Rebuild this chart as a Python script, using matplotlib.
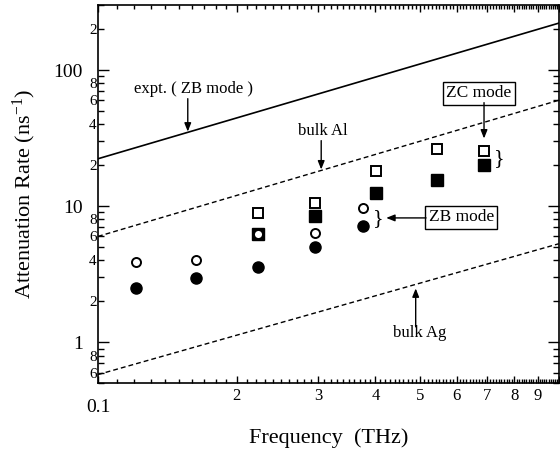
import numpy as np
import matplotlib
matplotlib.use('Agg')
import matplotlib.pyplot as plt
from matplotlib.ticker import FixedLocator, FuncFormatter, NullFormatter

plt.rcParams['font.family'] = ['Liberation Serif', 'DejaVu Serif']
plt.rcParams['mathtext.fontset'] = 'custom'
plt.rcParams['mathtext.rm'] = 'Liberation Serif'
plt.rcParams['mathtext.default'] = 'regular'

# lines (frequency in THz, rate in 1/ns)
line_f = [1.0, 10.0]
expt_zb = [22.3, 221.0]
bulk_al = [6.0, 60.0]
bulk_ag = [0.58, 5.3]

# ZB mode (circles)
f_circ = [1.21, 1.63, 2.22, 2.96, 3.76]
zb_open = [3.9, 4.0, 6.3, 6.4, 9.7]
zb_fill = [2.5, 2.97, 3.55, 5.0, 7.15]

# ZC mode (squares)
f_sq = [2.22, 2.96, 4.02, 5.43, 6.87]
zc_open = [8.96, 10.6, 18.0, 26.3, 25.6]
zc_fill = [6.3, 8.46, 12.4, 15.7, 20.1]

fig = plt.figure(figsize=(5.6, 4.58), dpi=100)
ax = fig.add_axes([0.175, 0.163, 0.823, 0.826])

ax.plot(line_f, expt_zb, color='black', lw=1.2)
ax.plot(line_f, bulk_al, color='black', lw=1.0, dashes=(3.5, 2.2))
ax.plot(line_f, bulk_ag, color='black', lw=1.0, dashes=(3.5, 2.2))

ax.plot(f_sq, zc_fill, ls='none', marker='s', ms=8, mfc='black', mec='black', zorder=3)
ax.plot(f_sq, zc_open, ls='none', marker='s', ms=6.5, mfc='white', mec='black', mew=1.4, zorder=3)
ax.plot(f_circ, zb_fill, ls='none', marker='o', ms=8, mfc='black', mec='black', zorder=4)
ax.plot(f_circ, zb_open, ls='none', marker='o', ms=6.5, mfc='white', mec='black', mew=1.4, zorder=4)

ax.set_xscale('log')
ax.set_yscale('log')
ax.set_xlim(1, 10)
ax.set_ylim(0.5, 300)

# x ticks: integers labelled, 0.1 steps as small ticks
ax.xaxis.set_major_locator(FixedLocator(np.arange(1, 11)))
ax.xaxis.set_major_formatter(FuncFormatter(lambda v, p: '' if v < 1.5 or v > 9.5 else '%d' % round(v)))
ax.xaxis.set_minor_locator(FixedLocator(np.arange(1.1, 10, 0.1)))
ax.xaxis.set_minor_formatter(NullFormatter())

# y ticks
ax.yaxis.set_major_locator(FixedLocator([1, 10, 100]))
ax.yaxis.set_major_formatter(FuncFormatter(lambda v, p: '%d' % round(v)))
ymin = [m * d for d in (0.1, 1, 10, 100) for m in range(2, 10)]
ax.yaxis.set_minor_locator(FixedLocator(ymin))

def ymin_fmt(v, p):
    lead = v / 10 ** np.floor(np.log10(v) + 1e-9)
    k = int(round(lead))
    return '%d' % k if k in (2, 4, 6, 8) else ''

ax.yaxis.set_minor_formatter(FuncFormatter(ymin_fmt))

ax.tick_params(which='both', direction='in', top=True, right=True, width=1, colors='black')
ax.tick_params(axis='x', which='major', length=5, labelsize=12, pad=3)
ax.tick_params(axis='x', which='minor', length=3)
ax.tick_params(axis='y', which='major', length=8, labelsize=14, pad=11)
ax.tick_params(axis='y', which='minor', length=4, labelsize=11, pad=1)
for s in ax.spines.values():
    s.set_linewidth(1.2)

ax.text(1.0, -0.065, '0.1', transform=ax.get_xaxis_transform(), ha='center', va='center', fontsize=14)

ax.set_xlabel('Frequency  (THz)', fontsize=16)
ax.xaxis.set_label_coords(0.5, -0.12)
ax.set_ylabel('Attenuation Rate (ns$^{-1}$)', fontsize=16)
ax.yaxis.set_label_coords(-0.13, 0.5)

arrow = dict(arrowstyle='-|>,head_length=0.5,head_width=0.2', color='black', lw=1,
             shrinkA=0, shrinkB=0, mutation_scale=10)

ax.text(1.61, 72.9, 'expt. ( ZB mode )', ha='center', va='center', fontsize=12)
ax.annotate('', xy=(1.566, 35.3), xytext=(1.566, 61.6), arrowprops=arrow)

ax.text(3.08, 35.9, 'bulk Al', ha='center', va='center', fontsize=12)
ax.annotate('', xy=(3.05, 18.6), xytext=(3.05, 30.3), arrowprops=arrow)

ax.text(6.71, 67.6, 'ZC mode', ha='center', va='center', fontsize=12.5,
        bbox=dict(boxstyle='square,pad=0.2', fc='white', ec='black', lw=1))
ax.annotate('', xy=(6.88, 31.4), xytext=(6.88, 57.6), arrowprops=arrow)
ax.text(7.44, 22.4, '}', ha='center', va='center', fontsize=16)

ax.text(6.14, 8.28, 'ZB mode', ha='center', va='center', fontsize=12.5,
        bbox=dict(boxstyle='square,pad=0.2', fc='white', ec='black', lw=1))
ax.annotate('', xy=(4.22, 8.2), xytext=(5.15, 8.2), arrowprops=arrow)
ax.text(4.06, 8.13, '}', ha='center', va='center', fontsize=16)

ax.text(4.99, 1.164, 'bulk Ag', ha='center', va='center', fontsize=12)
ax.annotate('', xy=(4.89, 2.49), xytext=(4.89, 1.30), arrowprops=arrow)

fig.savefig('out.png', dpi=100)
